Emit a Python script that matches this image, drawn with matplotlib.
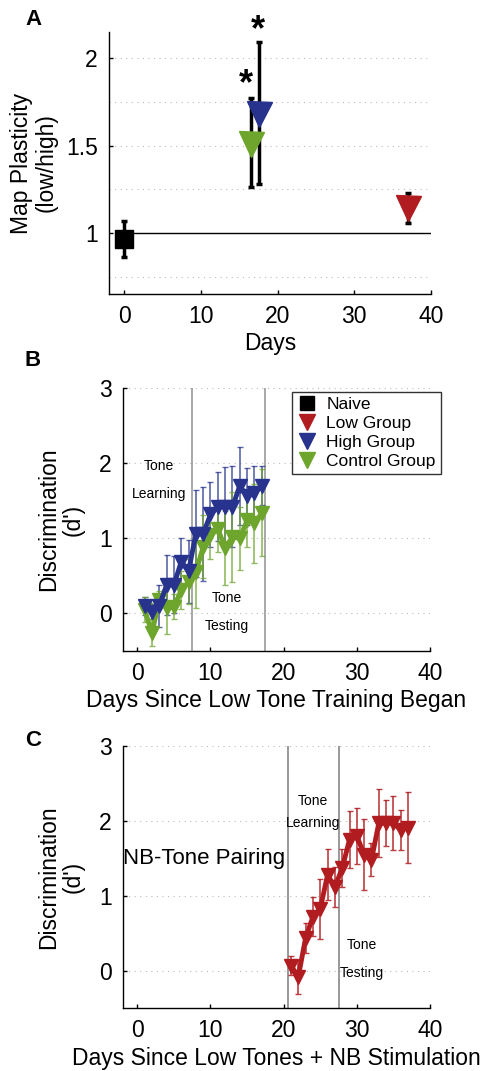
import matplotlib
matplotlib.use("Agg")
import matplotlib.pyplot as plt
from matplotlib.lines import Line2D
import numpy as np

plt.rcParams['font.family'] = ['Liberation Sans', 'DejaVu Sans']

RED = '#B01C20'
BLUE = '#27338C'
GREEN = '#6EA52C'
FS = 16.5

# ---- Panel A data ----
a_days = [0, 16.5, 17.5, 37]
a_vals = [0.965, 1.51, 1.68, 1.14]
a_lo = [0.86, 1.26, 1.28, 1.055]
a_hi = [1.07, 1.77, 2.09, 1.23]
a_colors = ['black', GREEN, BLUE, RED]
a_markers = ['s', 'v', 'v', 'v']
a_star_x = [15.8, 17.4]
a_star_y = [1.85, 2.16]

# ---- Panel B data ----
b_days = list(range(1, 18))
b_high = [0.10, 0.02, 0.10, 0.38, 0.38, 0.69, 0.56, 1.06, 1.06, 1.32, 1.42, 1.42, 1.42, 1.70, 1.56, 1.60, 1.70]
b_high_err = [0.12, 0.10, 0.28, 0.40, 0.38, 0.32, 0.42, 0.58, 0.63, 0.43, 0.46, 0.53, 0.54, 0.52, 0.38, 0.36, 0.26]
b_ctrl = [0.05, -0.26, 0.18, 0.07, 0.09, 0.31, 0.42, 0.55, 0.89, 1.04, 1.13, 0.87, 1.02, 1.00, 1.24, 1.20, 1.34]
b_ctrl_err = [0.17, 0.18, 0.12, 0.35, 0.17, 0.25, 0.30, 0.48, 0.42, 0.31, 0.31, 0.49, 0.60, 0.42, 0.35, 0.53, 0.58]
b_lines = [7.5, 17.5]

# ---- Panel C data ----
c_days = list(range(21, 38))
c_low = [0.07, -0.08, 0.44, 0.72, 0.83, 1.28, 1.12, 1.37, 1.75, 1.80, 1.55, 1.48, 1.97, 1.97, 1.97, 1.88, 1.91]
c_low_err = [0.13, 0.23, 0.20, 0.26, 0.40, 0.34, 0.27, 0.25, 0.38, 0.37, 0.47, 0.22, 0.45, 0.31, 0.36, 0.27, 0.47]
c_lines = [20.6, 27.5]

legend_labels = ['Naive', 'Low Group', 'High Group', 'Control Group']

fig = plt.figure(figsize=(4.89, 10.71), dpi=100)


def style(ax):
    for s in ['top', 'right']:
        ax.spines[s].set_visible(False)
    for s in ['left', 'bottom']:
        ax.spines[s].set_linewidth(1.0)
    ax.tick_params(direction='in', length=3, width=1, labelsize=FS, pad=8)


# ---------- A ----------
axA = fig.add_axes([109 / 489, 1 - 294 / 1071, 322 / 489, 262 / 1071])
style(axA)
axA.set_xlim(-2, 40)
axA.set_ylim(0.65, 2.15)
for g in [0.75, 1.25, 1.5, 1.75, 2.0]:
    axA.axhline(g, color='#bbbbbb', lw=0.8, ls=(0, (1, 4)), zorder=0)
axA.hlines(1, 0, 40, color='black', lw=1, zorder=1)
for x, v, lo, hi, c, m in zip(a_days, a_vals, a_lo, a_hi, a_colors, a_markers):
    axA.errorbar([x], [v], yerr=[[v - lo], [hi - v]], fmt='none', ecolor='black',
                 elinewidth=2.5, capsize=2.5, capthick=2.5, zorder=2)
    ms = 12.5 if m == 's' else 18
    axA.plot([x], [v], marker=m, color=c, ms=ms, ls='none', zorder=3, mec=c)
for x, y in zip(a_star_x, a_star_y):
    axA.text(x, y, '*', fontsize=26, fontweight='bold', ha='center', va='center', clip_on=False)
axA.set_xticks([0, 10, 20, 30, 40])
axA.set_yticks([1, 1.5, 2])
axA.set_yticklabels(['1', '1.5', '2'])
axA.set_xlabel('Days', fontsize=FS, labelpad=3)
axA.set_ylabel('Map Plasticity\n(low/high)', fontsize=FS, labelpad=6, linespacing=1.1)
fig.text(25 / 489, 1 - 9 / 1071, 'A', fontsize=16, fontweight='bold', ha='left', va='top')


def panel_BC(rect):
    ax = fig.add_axes(rect)
    style(ax)
    ax.set_xlim(-2, 40)
    ax.set_ylim(-0.5, 3)
    for g in [0, 1, 2, 3]:
        ax.axhline(g, color='#bbbbbb', lw=0.8, ls=(0, (1, 4)), zorder=0)
    ax.set_xticks([0, 10, 20, 30, 40])
    ax.set_yticks([0, 1, 2, 3])
    ax.set_ylabel("Discrimination\n(d')", fontsize=FS, labelpad=10, linespacing=1.1)
    return ax


# ---------- B ----------
axB = panel_BC([122.7 / 489, 1 - 651 / 1071, 307.3 / 489, 262.7 / 1071])
for xl in b_lines:
    axB.axvline(xl, color='#999999', lw=1.2, zorder=1)
axB.errorbar(b_days, b_high, yerr=b_high_err, fmt='none', ecolor=BLUE, alpha=0.75,
             elinewidth=1.2, capsize=2, capthick=1.0, zorder=2)
axB.errorbar(b_days, b_ctrl, yerr=b_ctrl_err, fmt='none', ecolor=GREEN, alpha=0.75,
             elinewidth=1.2, capsize=2, capthick=1.0, zorder=2)
axB.plot(b_days, b_high, color=BLUE, lw=3.5, marker='v', ms=10, zorder=4)
axB.plot(b_days, b_ctrl, color=GREEN, lw=3.5, marker='v', ms=10, zorder=3)
axB.text(3.0, 1.97, 'Tone', fontsize=10, ha='center', va='center')
axB.text(3.0, 1.59, 'Learning', fontsize=10, ha='center', va='center')
axB.text(12.2, 0.20, 'Tone', fontsize=10, ha='center', va='center')
axB.text(12.2, -0.17, 'Testing', fontsize=10, ha='center', va='center')
axB.set_xlabel('Days Since Low Tone Training Began', fontsize=FS, labelpad=3)
handles = [Line2D([], [], marker='s', color='black', ls='none', ms=10),
           Line2D([], [], marker='v', color=RED, ls='none', ms=12),
           Line2D([], [], marker='v', color=BLUE, ls='none', ms=12),
           Line2D([], [], marker='v', color=GREEN, ls='none', ms=12)]
leg = axB.legend(handles, legend_labels, loc='upper left',
                 bbox_to_anchor=(291.7 / 489, 1 - 391.7 / 1071), bbox_transform=fig.transFigure,
                 fontsize=12.5, frameon=True, fancybox=False, handlelength=1.2,
                 handletextpad=0.5, borderpad=0.3, labelspacing=0.22, borderaxespad=0)
leg.get_frame().set_edgecolor('black')
leg.get_frame().set_linewidth(1.0)
fig.text(25 / 489, 1 - 350 / 1071, 'B', fontsize=16, fontweight='bold', ha='left', va='top')

# ---------- C ----------
axC = panel_BC([122.7 / 489, 1 - 1008.3 / 1071, 307.3 / 489, 262.3 / 1071])
for xl in c_lines:
    axC.axvline(xl, color='#888888', lw=1.2, zorder=1)
axC.errorbar(c_days, c_low, yerr=c_low_err, fmt='none', ecolor=RED, alpha=0.85,
             elinewidth=1.2, capsize=2, capthick=1.0, zorder=2)
axC.plot(c_days, c_low, color=RED, lw=3.5, marker='v', ms=10, zorder=3)
axC.text(24.0, 2.26, 'Tone', fontsize=10, ha='center', va='center')
axC.text(24.0, 1.97, 'Learning', fontsize=10, ha='center', va='center')
axC.text(30.7, 0.35, 'Tone', fontsize=10, ha='center', va='center')
axC.text(30.7, -0.03, 'Testing', fontsize=10, ha='center', va='center')
axC.text(-1.9, 1.5, 'NB-Tone Pairing', fontsize=16, ha='left', va='center')
axC.set_xlabel('Days Since Low Tones + NB Stimulation', fontsize=FS, labelpad=3)
fig.text(25 / 489, 1 - 730 / 1071, 'C', fontsize=16, fontweight='bold', ha='left', va='top')

fig.savefig('out.png', dpi=100)
